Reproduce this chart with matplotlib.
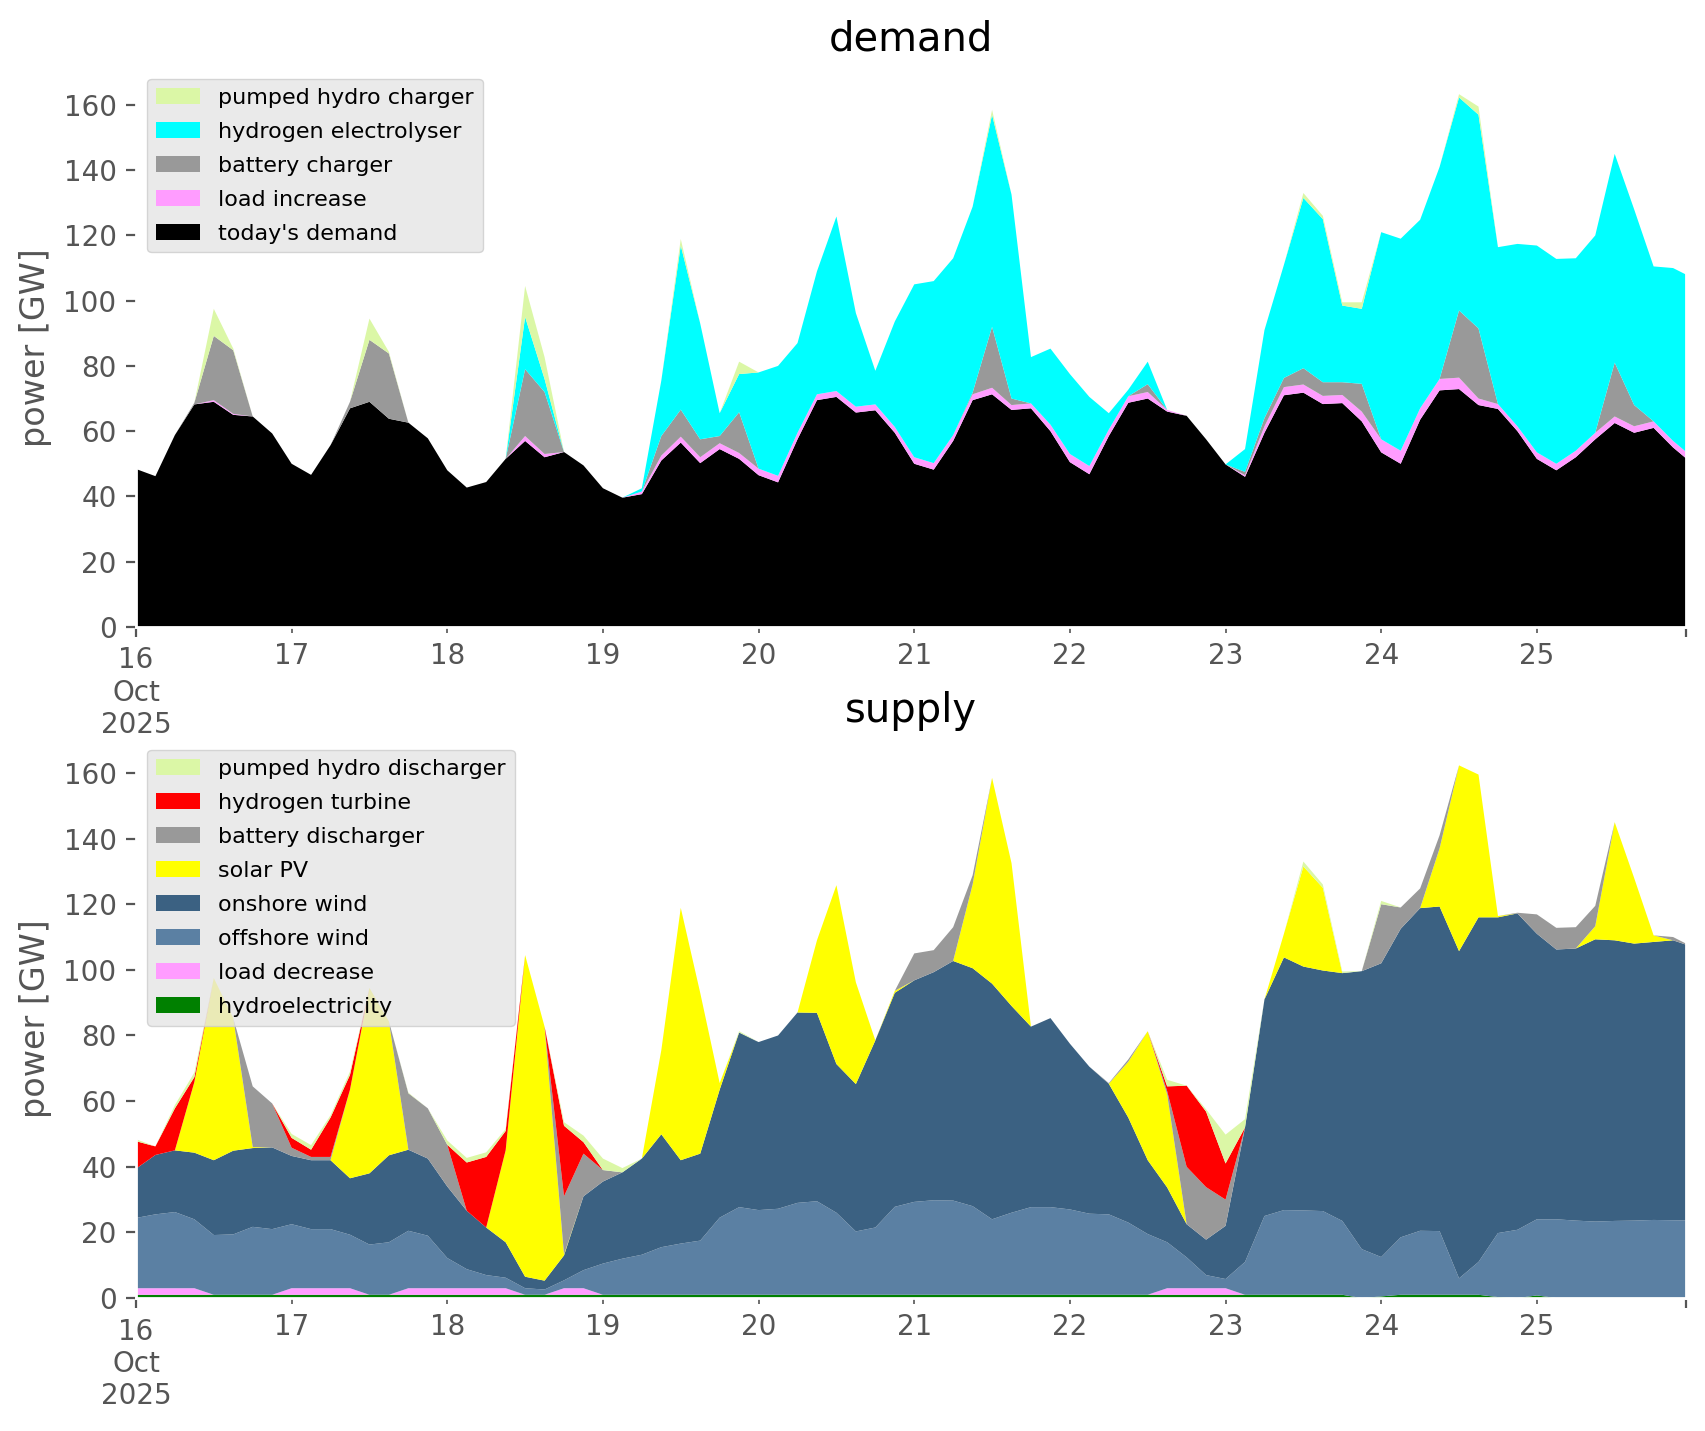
import numpy as np
import matplotlib
matplotlib.use("Agg")
import matplotlib.pyplot as plt

# hours since 16 Oct 2025 00:00, read every 3 h off the reference
hours = np.arange(0, 241, 3)

# ---- demand side [GW] ----
todays_demand = [
    48.4, 46.2, 58.8, 68.2, 69.0, 65.0, 64.5, 59.3,
    50.0, 46.6, 55.7, 67.0, 69.0, 63.8, 62.6, 57.8,
    48.0, 42.7, 44.4, 51.5, 57.0, 52.0, 53.6, 49.5,
    42.5, 39.6, 40.7, 51.0, 56.5, 50.2, 54.5, 51.5,
    46.5, 44.3, 57.5, 69.5, 70.5, 65.7, 66.4, 59.5,
    50.0, 48.2, 57.0, 69.5, 71.3, 66.5, 67.0, 60.0,
    50.5, 46.8, 58.5, 68.7, 70.0, 66.0, 64.7, 57.5,
    49.8, 46.0, 59.5, 71.0, 71.8, 68.3, 68.6, 63.0,
    53.5, 50.0, 63.5, 72.5, 72.9, 68.0, 66.8, 60.0,
    51.5, 48.0, 52.0, 57.5, 62.5, 59.5, 61.0, 55.0,
    50.0]
load_increase = [
    0, 0, 0, 0, 0.5, 0.3, 0, 0,
    0, 0, 0, 0, 0, 0, 0, 0,
    0, 0, 0, 0, 1.5, 1.0, 0, 0,
    0, 0, 0.8, 1.5, 1.8, 1.8, 1.8, 1.8,
    2.0, 2.0, 2.0, 1.8, 1.8, 1.8, 1.8, 1.8,
    2.0, 2.0, 1.8, 1.8, 2.0, 1.5, 1.5, 2.0,
    2.5, 2.5, 2.0, 2.0, 2.0, 0.5, 0, 0,
    0, 0.5, 2.0, 2.5, 2.5, 2.5, 2.5, 3.0,
    4.0, 4.0, 3.5, 3.5, 3.5, 2.0, 1.5, 1.5,
    2.0, 2.0, 2.0, 2.0, 2.0, 2.0, 2.0, 2.0,
    2.0]
battery_charger = [
    0, 0, 0, 0.5, 19.7, 19.5, 0, 0,
    0, 0, 0, 2.0, 19.0, 20.0, 0, 0,
    0, 0, 0, 0, 20.5, 19.0, 0, 0,
    0, 0, 0, 6.0, 8.3, 5.5, 2.2, 12.5,
    0, 0, 0, 0, 0, 0, 0, 0,
    0, 0, 0, 0.5, 18.7, 2.0, 0, 0,
    0, 0, 0, 0, 2.4, 0, 0, 0,
    0, 1.0, 2.5, 2.8, 5.0, 4.2, 3.9, 8.5,
    0, 0, 0, 0, 20.6, 21.5, 0, 0,
    0, 0, 0, 0, 16.5, 6.5, 0, 0,
    0]
electrolyser = [
    0, 0, 0, 0, 0, 0, 0, 0,
    0, 0, 0, 0, 0, 0, 0, 0,
    0, 0, 0, 0, 16.0, 4.0, 0, 0,
    0, 0, 1.0, 17.0, 50.3, 35.5, 7.0, 11.7,
    29.5, 33.7, 27.5, 37.7, 53.5, 28.7, 10.3, 32.3,
    53.0, 55.8, 54.2, 57.0, 65.0, 62.5, 14.2, 23.3,
    24.5, 21.2, 5.0, 2.0, 6.9, 0, 0, 0,
    0, 7.0, 27.0, 34.7, 52.2, 50.0, 23.5, 23.0,
    63.5, 65.0, 57.8, 65.0, 65.3, 65.5, 48.1, 55.9,
    63.4, 62.8, 59.0, 60.5, 64.0, 60.0, 47.5, 53.0,
    55.0]
pumped_charger = [
    0, 0, 0, 0, 8.3, 0.5, 0, 0,
    0, 0, 0, 0, 6.5, 0.5, 0, 0,
    0, 0, 0, 0, 9.5, 6.7, 0, 0,
    0, 0, 0, 0, 2.0, 0, 0, 3.8,
    0, 0, 0, 0, 0, 0, 0, 0,
    0, 0, 0, 0, 1.5, 0, 0, 0,
    0, 0, 0, 0, 0, 0, 0, 0,
    0, 0, 0, 0, 1.5, 1.0, 1.0, 2.0,
    0, 0, 0, 0, 1.0, 2.5, 0, 0,
    0, 0, 0, 0, 0, 0, 0, 0,
    0]

# ---- supply side [GW] ----
hydro = [
    1.0, 1.0, 1.0, 1.0, 1.0, 1.0, 1.0, 1.0,
    1.0, 1.0, 1.0, 1.0, 1.0, 1.0, 1.0, 1.0,
    1.0, 1.0, 1.0, 1.0, 1.0, 1.0, 1.0, 1.0,
    1.0, 1.0, 1.0, 1.0, 1.0, 1.0, 1.0, 1.0,
    1.0, 1.0, 1.0, 1.0, 1.0, 1.0, 1.0, 1.0,
    1.0, 1.0, 1.0, 1.0, 1.0, 1.0, 1.0, 1.0,
    1.0, 1.0, 1.0, 1.0, 1.0, 1.0, 1.0, 1.0,
    1.0, 1.0, 1.0, 1.0, 1.0, 1.0, 1.0, 0,
    0.5, 1.0, 1.0, 1.0, 1.0, 1.0, 0.3, 0,
    0.8, 0, 0, 0, 0, 0, 0, 0,
    0]
load_decrease = [
    2, 2, 2, 2, 0, 0, 0, 0,
    2, 2, 2, 2, 0, 0, 2, 2,
    2, 2, 2, 2, 0, 0, 2, 2,
    0, 0, 0, 0, 0, 0, 0, 0,
    0, 0, 0, 0, 0, 0, 0, 0,
    0, 0, 0, 0, 0, 0, 0, 0,
    0, 0, 0, 0, 0, 2, 2, 2,
    2, 0, 0, 0, 0, 0, 0, 0,
    0, 0, 0, 0, 0, 0, 0, 0,
    0, 0, 0, 0, 0, 0, 0, 0,
    0]
offshore = [
    21.4, 22.5, 23.2, 21.0, 18.2, 18.4, 20.7, 20.0,
    19.5, 18.0, 18.0, 16.3, 15.3, 16.0, 17.5, 16.0,
    9.2, 5.8, 4.0, 3.2, 2.0, 1.6, 2.4, 5.5,
    9.5, 11.0, 12.2, 14.5, 15.6, 16.5, 23.5, 26.7,
    25.8, 26.2, 28.0, 28.5, 25.0, 19.3, 20.5, 26.8,
    28.3, 28.8, 28.7, 27.0, 23.0, 25.0, 26.7, 26.7,
    26.0, 24.7, 24.5, 22.0, 18.5, 14.0, 9.4, 4.0,
    2.8, 10.0, 24.0, 25.8, 25.7, 25.5, 22.5, 14.9,
    12.0, 17.5, 19.5, 19.4, 5.0, 10.0, 19.5, 20.8,
    23.2, 24.0, 23.6, 23.3, 23.5, 23.6, 23.8, 23.7,
    23.6]
onshore = [
    15.0, 18.1, 18.8, 20.3, 22.8, 25.5, 24.0, 24.9,
    20.8, 21.0, 21.0, 17.2, 21.7, 26.5, 24.7, 23.5,
    21.8, 17.8, 14.5, 10.8, 3.5, 2.7, 7.6, 22.5,
    25.0, 26.3, 29.3, 34.4, 25.4, 26.5, 39.0, 53.2,
    51.2, 52.8, 58.0, 57.4, 45.3, 44.9, 57.0, 65.2,
    67.5, 69.5, 73.0, 72.5, 71.8, 63.0, 55.0, 57.6,
    50.5, 44.8, 39.8, 32.0, 22.5, 16.7, 10.1, 10.8,
    16.2, 41.0, 66.0, 77.0, 74.3, 73.3, 75.5, 84.7,
    89.5, 94.0, 98.3, 98.9, 99.7, 105.0, 96.2, 96.4,
    87.0, 82.2, 82.9, 86.0, 85.5, 84.4, 84.7, 85.3,
    83.4]
solar = [
    0, 0, 0, 21.5, 55.5, 40.4, 0.3, 0,
    0, 0, 0, 27.0, 56.5, 40.8, 0, 0,
    0, 0, 0, 28.0, 98.0, 77.4, 0.3, 0,
    0, 0, 0, 25.6, 76.9, 49.0, 2.0, 0,
    0, 0, 0, 22.1, 54.5, 31.0, 0, 0.6,
    0, 0, 0, 25.5, 62.7, 43.5, 0, 0,
    0, 0, 0, 17.0, 39.3, 28.3, 0, 0,
    0, 0, 0, 7.2, 30.5, 25.2, 0, 0,
    0, 0, 0, 17.7, 56.6, 43.5, 0.4, 0,
    0, 0, 0, 4.0, 36.0, 20.0, 2.0, 0,
    0]
battery_discharger = [
    0, 0, 0, 0, 0, 0, 18.5, 13.4,
    2.5, 1.0, 1.0, 0, 0, 0, 17.2, 15.3,
    12.7, 0, 0, 0, 0, 0, 17.7, 13.0,
    3.5, 0, 0, 0, 0, 0, 0, 0,
    0, 0, 0, 0, 0, 0, 0, 0,
    8.2, 6.7, 10.3, 2.8, 0, 0, 0, 0,
    0, 0, 0.2, 0.7, 0, 1.0, 17.5, 16.0,
    8.0, 0, 0, 0, 0, 0, 0, 0,
    18.0, 6.5, 6.0, 4.0, 0, 0, 0, 0.2,
    5.9, 6.6, 6.5, 6.2, 0, 0, 0, 1.0,
    0]
hydrogen_turbine = [
    8.4, 2.6, 12.8, 1.5, 0, 0, 0, 0,
    3.0, 2.2, 12.0, 4.5, 0, 0, 0, 0,
    0, 14.7, 21.5, 5.9, 0, 0, 21.5, 3.5,
    0, 0, 0, 0, 0, 0, 0, 0,
    0, 0, 0, 0, 0, 0, 0, 0,
    0, 0, 0, 0, 0, 0, 0, 0,
    0, 0, 0, 0, 0, 1.5, 24.7, 23.0,
    11.0, 0, 0, 0, 0, 0, 0, 0,
    0, 0, 0, 0, 0, 0, 0, 0,
    0, 0, 0, 0, 0, 0, 0, 0,
    0]
pumped_discharger = [
    0.6, 0, 1.0, 1.4, 0, 0, 0, 0,
    1.2, 1.4, 0.7, 1.0, 0, 0, 0.2, 0,
    1.3, 1.4, 1.4, 0.6, 0, 0, 1.1, 2.0,
    3.5, 1.3, 0, 0, 0, 0, 0, 0.4,
    0, 0, 0, 0, 0, 0, 0, 0,
    0, 0, 0, 0, 0, 0, 0, 0,
    0, 0, 0, 0, 0, 2.0, 0, 0.7,
    8.8, 2.5, 0, 0, 1.5, 1.0, 0.5, 0,
    1.0, 0, 0, 0, 0, 0, 0, 0,
    0, 0, 0, 0, 0, 0, 0, 0,
    0]

demand_labels = ["today's demand", "load increase", "battery charger",
                 "hydrogen electrolyser", "pumped hydro charger"]
demand_colours = ["black", "#ff9cff", "#999999", "#00ffff", "#dbf7a6"]
supply_labels = ["hydroelectricity", "load decrease", "offshore wind",
                 "onshore wind", "solar PV", "battery discharger",
                 "hydrogen turbine", "pumped hydro discharger"]
supply_colours = ["#008000", "#ff9cff", "#5b80a3", "#3b6182", "#ffff00",
                  "#999999", "#ff0000", "#dbf7a6"]

day_labels = [str(d) for d in range(17, 26)]


def doPanel( ax, title, series, labels, colours ):
    ax.stackplot( hours, *series, labels = labels, colors = colours,
                  linewidth = 0 )
    total = np.sum( np.array( series ), axis = 0 )
    ax.set_xlim( 0, 239 )
    ax.set_ylim( 0, total.max() * 1.05 )
    ax.set_facecolor( "white" )
    ax.set_title( title )
    ax.set_ylabel( "power [GW]" )
    ax.set_yticks( np.arange( 0, 161, 20 ) )
    ax.set_xticks( [0, 239] )
    ax.set_xticklabels( ["16\nOct\n2025", ""] )
    ax.set_xticks( np.arange( 24, 239, 24 ), minor = True )
    ax.set_xticklabels( day_labels, minor = True )
    handles, names = ax.get_legend_handles_labels()
    ax.legend( handles[::-1], names[::-1], loc = "upper left", fontsize = 8,
               labelspacing = 0.63 )


def main():
    plt.style.use( "ggplot" )
    fig, axes = plt.subplots( 2, 1, figsize = (8.53, 7.155), dpi = 200,
                              facecolor = "white" )
    doPanel( axes[0], "demand",
             [todays_demand, load_increase, battery_charger, electrolyser,
              pumped_charger], demand_labels, demand_colours )
    doPanel( axes[1], "supply",
             [hydro, load_decrease, offshore, onshore, solar,
              battery_discharger, hydrogen_turbine, pumped_discharger],
             supply_labels, supply_colours )
    fig.subplots_adjust( left = 0.0797, right = 0.9883, top = 0.9528,
                         bottom = 0.0929, hspace = 0.2 )
    fig.savefig( "out.png", dpi = 200, facecolor = "white" )


if __name__ == "__main__":
    main()
